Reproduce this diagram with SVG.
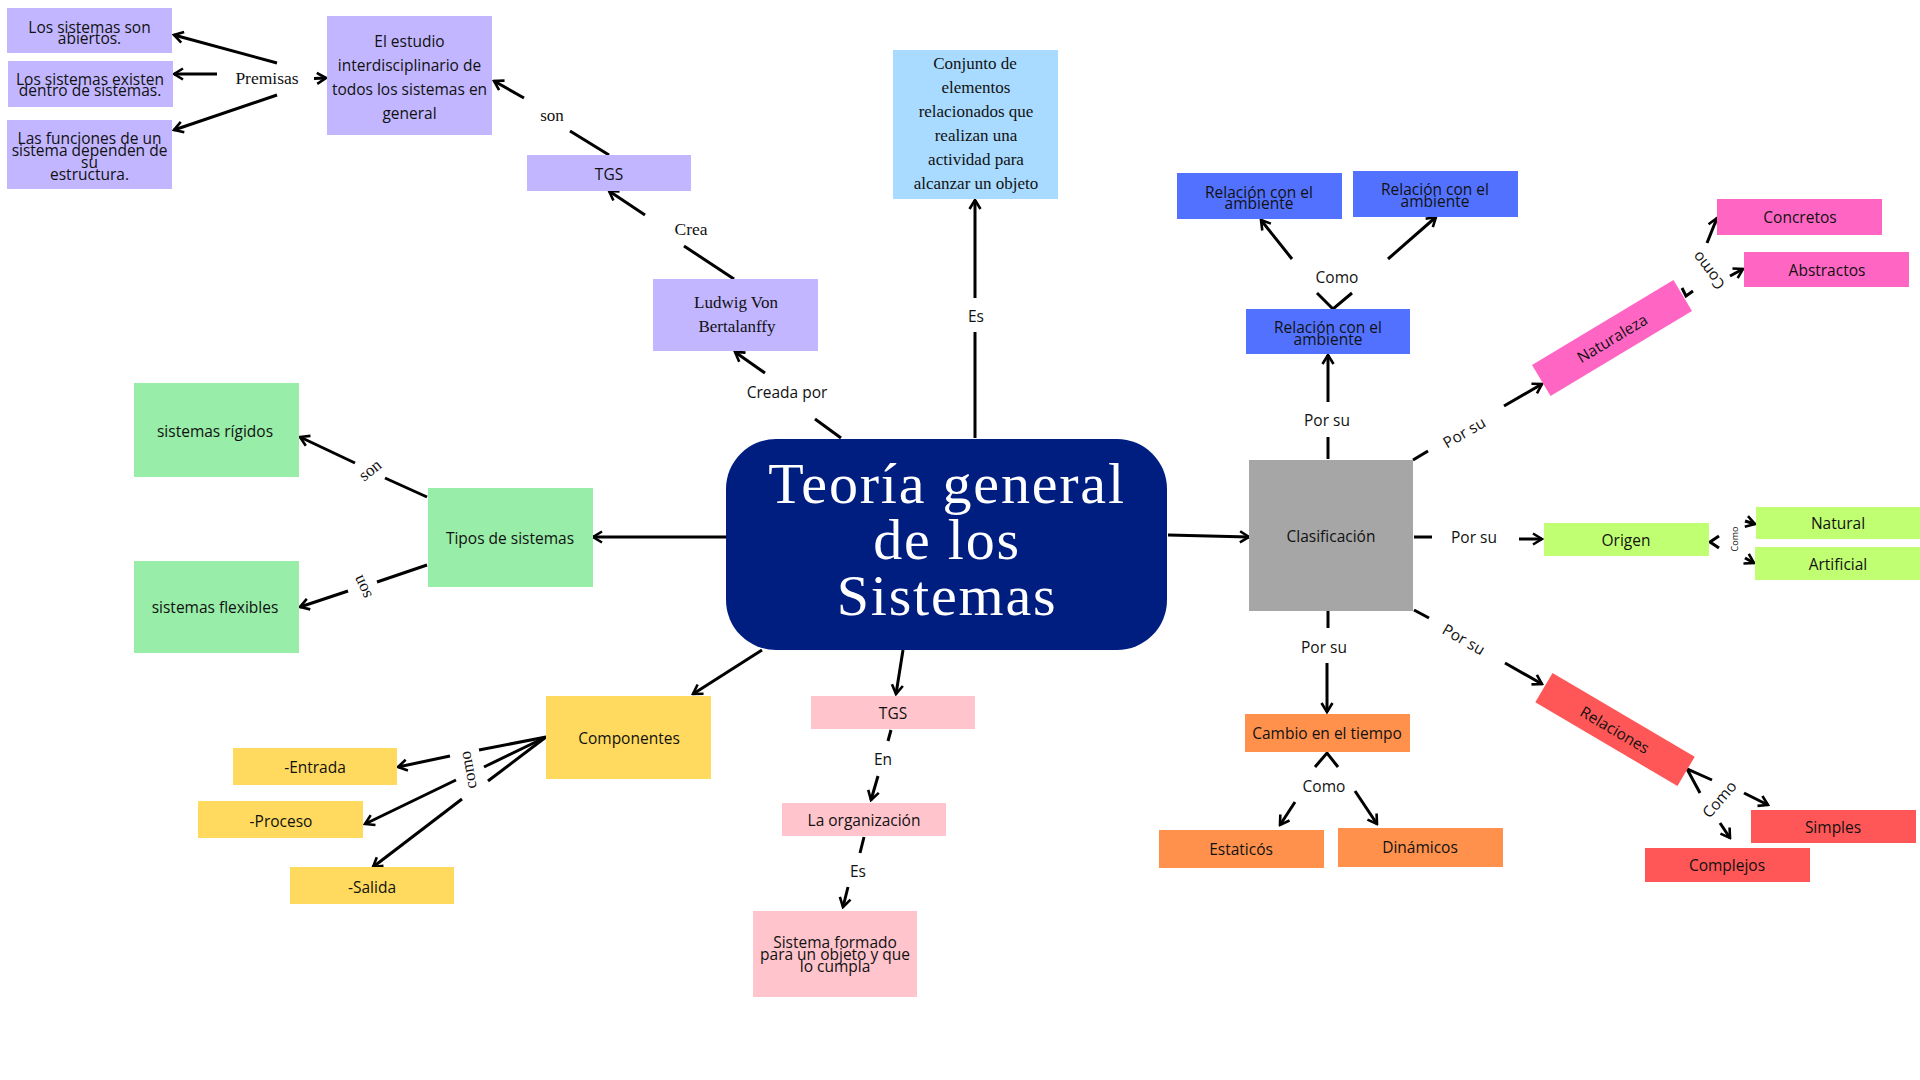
<svg xmlns="http://www.w3.org/2000/svg" width="1920" height="1080" viewBox="0 0 1920 1080">
<style>
.t{font-family:"Open Sans","Liberation Sans",sans-serif;font-size:15.5px;fill:#111;text-anchor:middle;dominant-baseline:central}
.sf{font-family:"Liberation Serif",serif;font-size:17px;fill:#111;text-anchor:middle;dominant-baseline:central}
.ti{font-family:"Liberation Serif",serif;font-size:58px;fill:#fff;text-anchor:middle;letter-spacing:1.8px}
.c{fill:none;stroke:#000;stroke-width:3}
.a{marker-end:url(#ah)}
.pu{fill:#C1B6FF}
.lb{fill:#A8DBFF}
.bl{fill:#5271FF}
.pk{fill:#FF66C4}
.gr{fill:#98EDA8}
.ye{fill:#FFDA5E}
.lp{fill:#FFC4CC}
.or{fill:#FF914D}
.rd{fill:#FF5757}
.li{fill:#C1FF72}
.gy{fill:#A6A6A6}
</style>
<defs>
<marker id="ah" viewBox="0 0 14 14" refX="12" refY="7" markerWidth="14" markerHeight="14" markerUnits="userSpaceOnUse" orient="auto">
<path d="M3,1.5 L12,7 L3,12.5" fill="none" stroke="#000" stroke-width="2.6"/>
</marker>
</defs>
<rect width="1920" height="1080" fill="#fff"/>

<g id="connectors">
<path class="c a" d="M277,63 L174,35"/>
<path class="c a" d="M217,74 L174,74"/>
<path class="c a" d="M277,95 L174,130"/>
<path class="c a" d="M314,78.5 L326,78"/>
<text class="sf" x="267" y="78" style="font-size:17.5px">Premisas</text>
<path class="c" d="M609,155 L570,131"/>
<text class="sf" x="552" y="115">son</text>
<path class="c a" d="M524,98 L494,81"/>
<path class="c" d="M734,279 L684,246"/>
<text class="sf" x="691" y="229" style="font-size:17.5px">Crea</text>
<path class="c a" d="M645,215 L609,191"/>
<path class="c" d="M841,438 L815,419"/>
<text class="t" x="787" y="392">Creada por</text>
<path class="c a" d="M765,373 L735,352"/>
<path class="c" d="M975,438 L975,332"/>
<text class="t" x="976" y="316">Es</text>
<path class="c a" d="M975,298 L975,200"/>
<path class="c a" d="M726,537 L593,537"/>
<path class="c" d="M427,497 L385,478"/>
<text class="sf" x="370" y="470" transform="rotate(-39 370 470)">son</text>
<path class="c a" d="M355,463 L300,437"/>
<path class="c" d="M427,565 L377,582"/>
<text class="sf" x="362" y="587" transform="rotate(-115 362 587)">son</text>
<path class="c a" d="M348,591 L300,607"/>
<path class="c a" d="M762,650 L693,694"/>
<path class="c" d="M546,737 L479,750"/>
<path class="c" d="M546,737 L484,767"/>
<path class="c" d="M546,737 L488,781"/>
<text class="sf" x="468" y="770" transform="rotate(-100 468 770)">como</text>
<path class="c a" d="M450,756 L398,767"/>
<path class="c a" d="M456,780 L365,824"/>
<path class="c a" d="M462,799 L373,867"/>
<path class="c a" d="M903,650 L896,694"/>
<path class="c" d="M891,730 L888,741"/>
<text class="t" x="883" y="759">En</text>
<path class="c a" d="M878,776 L871,800"/>
<path class="c" d="M864,837 L860,853"/>
<text class="t" x="858" y="871">Es</text>
<path class="c a" d="M848,887 L843,907"/>
<path class="c a" d="M1168,535 L1249,537"/>
<path class="c" d="M1328,459 L1328,437"/>
<text class="t" x="1327" y="420">Por su</text>
<path class="c a" d="M1328,402 L1328,355"/>
<path class="c" d="M1317,293 L1333,309 L1352,293"/>
<text class="t" x="1337" y="277">Como</text>
<path class="c a" d="M1292,259 L1261,220"/>
<path class="c a" d="M1388,259 L1436,217"/>
<path class="c" d="M1413,460 L1428,451"/>
<text class="t" x="1464" y="432" transform="rotate(-30 1464 432)">Por su</text>
<path class="c a" d="M1504,406 L1542,384"/>
<path class="c" d="M1682,288 L1686,296 L1693,291"/>
<text class="t" x="1708" y="271" transform="rotate(-127 1708 271)">Como</text>
<path class="c a" d="M1707,243 L1717,218"/>
<path class="c a" d="M1730,276 L1743,269"/>
<path class="c" d="M1414,537 L1432,537"/>
<text class="t" x="1474" y="537">Por su</text>
<path class="c a" d="M1519,539 L1542,539"/>
<path class="c" d="M1719,536 L1710,542 L1719,548"/>
<text class="t" x="1734" y="539" style="font-size:9px" transform="rotate(-90 1734 539)">Como</text>
<path class="c a" d="M1745,521 L1755,524"/>
<path class="c a" d="M1745,558 L1754,563"/>
<path class="c" d="M1328,611 L1328,628"/>
<text class="t" x="1324" y="647">Por su</text>
<path class="c a" d="M1327,663 L1327,712"/>
<path class="c" d="M1315,767 L1327,753 L1338,767"/>
<text class="t" x="1324" y="786">Como</text>
<path class="c a" d="M1295,802 L1280,825"/>
<path class="c a" d="M1355,791 L1377,824"/>
<path class="c" d="M1414,610 L1429,618"/>
<text class="t" x="1464" y="639" transform="rotate(30 1464 639)">Por su</text>
<path class="c a" d="M1505,663 L1542,684"/>
<path class="c" d="M1700,793 L1687,769 L1712,780"/>
<text class="t" x="1719" y="799" transform="rotate(-49 1719 799)">Como</text>
<path class="c a" d="M1744,793 L1768,805"/>
<path class="c a" d="M1720,823 L1730,838"/>
</g>

<g id="n-abiertos"><rect class="pu" x="7" y="8" width="165" height="45"/>
<text class="t" x="89.5" y="27">Los sistemas son</text><text class="t" x="89.5" y="38">abiertos.</text></g>
<g id="n-existen"><rect class="pu" x="8" y="61" width="165" height="46"/>
<text class="t" x="90" y="79">Los sistemas existen</text><text class="t" x="90" y="90">dentro de sistemas.</text></g>
<g id="n-funciones"><rect class="pu" x="7" y="120" width="165" height="69"/>
<text class="t" x="89.5" y="138">Las funciones de un</text><text class="t" x="89.5" y="150">sistema dependen de</text><text class="t" x="89.5" y="162">su</text><text class="t" x="89.5" y="174">estructura.</text></g>
<g id="n-estudio"><rect class="pu" x="327" y="16" width="165" height="119"/>
<text class="t" x="409.5" y="41">El estudio</text><text class="t" x="409.5" y="65">interdisciplinario de</text><text class="t" x="409.5" y="89">todos los sistemas en</text><text class="t" x="409.5" y="113">general</text></g>
<g id="n-tgs"><rect class="pu" x="527" y="155" width="164" height="36"/>
<text class="t" x="609" y="174">TGS</text></g>
<g id="n-ludwig"><rect class="pu" x="653" y="279" width="165" height="72"/>
<text class="sf" x="736" y="302">Ludwig Von</text><text class="sf" x="737" y="326">Bertalanffy</text></g>
<g id="n-conjunto"><rect class="lb" x="893" y="50" width="165" height="149"/>
<text class="sf" x="975" y="63">Conjunto de</text><text class="sf" x="976" y="87">elementos</text><text class="sf" x="976" y="111">relacionados que</text><text class="sf" x="976" y="135">realizan una</text><text class="sf" x="976" y="159">actividad para</text><text class="sf" x="976" y="183">alcanzar un objeto</text></g>

<g id="n-centro"><rect x="726" y="439" width="441" height="211" rx="50" fill="#001E80"/>
<text class="ti" x="947" y="503">Teoría general</text><text class="ti" x="947" y="559">de los</text><text class="ti" x="947" y="615">Sistemas</text></g>

<g id="n-tipos"><rect class="gr" x="428" y="488" width="165" height="99"/>
<text class="t" x="510" y="538">Tipos de sistemas</text></g>
<g id="n-rigidos"><rect class="gr" x="134" y="383" width="165" height="94"/>
<text class="t" x="215" y="431">sistemas rígidos</text></g>
<g id="n-flexibles"><rect class="gr" x="134" y="561" width="165" height="92"/>
<text class="t" x="215" y="607">sistemas flexibles</text></g>

<g id="n-componentes"><rect class="ye" x="546" y="696" width="165" height="83"/>
<text class="t" x="629" y="738">Componentes</text></g>
<g id="n-entrada"><rect class="ye" x="233" y="748" width="164" height="37"/>
<text class="t" x="315" y="767">-Entrada</text></g>
<g id="n-proceso"><rect class="ye" x="198" y="801" width="165" height="37"/>
<text class="t" x="281" y="821">-Proceso</text></g>
<g id="n-salida"><rect class="ye" x="290" y="867" width="164" height="37"/>
<text class="t" x="372" y="887">-Salida</text></g>

<g id="n-tgs2"><rect class="lp" x="811" y="696" width="164" height="33"/>
<text class="t" x="893" y="713">TGS</text></g>
<g id="n-organizacion"><rect class="lp" x="782" y="803" width="164" height="33"/>
<text class="t" x="864" y="820">La organización</text></g>
<g id="n-sistema"><rect class="lp" x="753" y="911" width="164" height="86"/>
<text class="t" x="835" y="942">Sistema formado</text><text class="t" x="835" y="954">para un objeto y que</text><text class="t" x="835" y="966">lo cumpla</text></g>

<g id="n-clasificacion"><rect class="gy" x="1249" y="460" width="164" height="151"/>
<text class="t" x="1331" y="536">Clasificación</text></g>

<g id="n-rel1"><rect class="bl" x="1177" y="173" width="165" height="46"/>
<text class="t" x="1259" y="192">Relación con el</text><text class="t" x="1259" y="203">ambiente</text></g>
<g id="n-rel2"><rect class="bl" x="1353" y="171" width="165" height="46"/>
<text class="t" x="1435" y="189">Relación con el</text><text class="t" x="1435" y="201">ambiente</text></g>
<g id="n-rel3"><rect class="bl" x="1246" y="309" width="164" height="45"/>
<text class="t" x="1328" y="327">Relación con el</text><text class="t" x="1328" y="339">ambiente</text></g>

<g id="n-naturaleza" transform="translate(1612 338) rotate(-31)"><rect class="pk" x="-82.5" y="-18" width="165" height="36"/>
<text class="t" x="0" y="0">Naturaleza</text></g>
<g id="n-concretos"><rect class="pk" x="1717" y="199" width="165" height="36"/>
<text class="t" x="1800" y="217">Concretos</text></g>
<g id="n-abstractos"><rect class="pk" x="1744" y="252" width="165" height="35"/>
<text class="t" x="1827" y="270">Abstractos</text></g>

<g id="n-origen"><rect class="li" x="1544" y="523" width="165" height="33"/>
<text class="t" x="1626" y="540">Origen</text></g>
<g id="n-natural"><rect class="li" x="1756" y="507" width="165" height="32"/>
<text class="t" x="1838" y="523">Natural</text></g>
<g id="n-artificial"><rect class="li" x="1755" y="547" width="165" height="33"/>
<text class="t" x="1838" y="564">Artificial</text></g>

<g id="n-cambio"><rect class="or" x="1245" y="714" width="165" height="38"/>
<text class="t" x="1327" y="733">Cambio en el tiempo</text></g>
<g id="n-estaticos"><rect class="or" x="1159" y="830" width="165" height="38"/>
<text class="t" x="1241" y="849">Estaticós</text></g>
<g id="n-dinamicos"><rect class="or" x="1338" y="828" width="165" height="39"/>
<text class="t" x="1420" y="847">Dinámicos</text></g>

<g id="n-relaciones" transform="translate(1615 729.5) rotate(30.5)"><rect class="rd" x="-82.5" y="-17" width="165" height="34"/>
<text class="t" x="0" y="0">Relaciones</text></g>
<g id="n-simples"><rect class="rd" x="1751" y="810" width="165" height="33"/>
<text class="t" x="1833" y="827">Simples</text></g>
<g id="n-complejos"><rect class="rd" x="1645" y="848" width="165" height="34"/>
<text class="t" x="1727" y="865">Complejos</text></g>
</svg>
